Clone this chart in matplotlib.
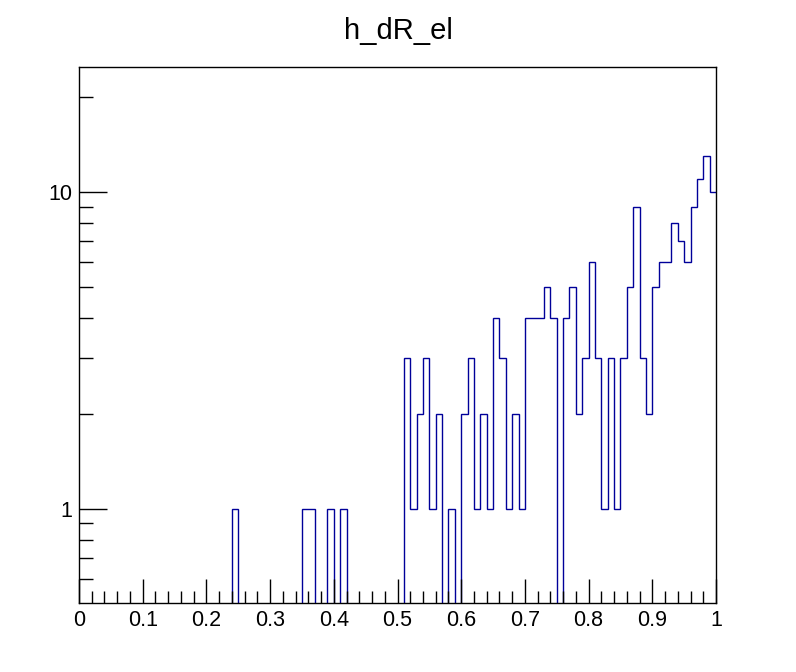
import numpy as np
import matplotlib.pyplot as plt
from matplotlib.ticker import LogLocator, MultipleLocator, FixedLocator, NullFormatter

# histogram h_dR_el: 100 bins from 0 to 1
bin_edges = np.linspace(0.0, 1.0, 101)
counts = np.zeros(100)
counts[24] = 1
counts[35] = 1
counts[36] = 1
counts[39] = 1
counts[41] = 1
counts[51:100] = [3, 1, 2, 3, 1, 2, 0, 1, 0, 2,
                  3, 1, 2, 1, 4, 3, 1, 2, 1, 4,
                  4, 4, 5, 4, 0, 4, 5, 2, 3, 6,
                  3, 1, 3, 1, 3, 5, 9, 3, 2, 5,
                  6, 6, 8, 7, 6, 9, 11, 13, 10]

ymin, ymax = 0.505, 24.8
line_color = '#000099'

plt.rcParams['font.family'] = ['Liberation Sans', 'DejaVu Sans']

fig = plt.figure(figsize=(7.96, 6.72), dpi=100)
ax = fig.add_axes([79 / 796, 1 - 603 / 672, (716 - 79) / 796, (603 - 67) / 672])

# empty bins drop to the bottom of the frame, like ROOT does on a log axis
drawn = np.where(counts > 0, counts, ymin * 0.5)
ax.stairs(drawn, bin_edges, color=line_color, linewidth=1.0, baseline=None)

ax.set_yscale('log')
ax.set_xlim(0, 1)
ax.set_ylim(ymin, ymax)

ax.xaxis.set_major_locator(MultipleLocator(0.1))
ax.xaxis.set_minor_locator(MultipleLocator(0.02))
ax.xaxis.set_major_formatter(plt.FuncFormatter(lambda v, p: f'{round(v, 2):g}'))
ax.yaxis.set_major_locator(FixedLocator([1, 10]))
ax.yaxis.set_major_formatter(plt.FuncFormatter(lambda v, p: f'{v:g}'))
ax.yaxis.set_minor_locator(LogLocator(base=10, subs=np.arange(2, 10)))
ax.yaxis.set_minor_formatter(NullFormatter())

ax.tick_params(axis='both', which='both', direction='in', top=False, right=False,
               labelsize=15.5, width=1.0)
ax.tick_params(axis='x', which='major', length=17, pad=5)
ax.tick_params(axis='x', which='minor', length=9)
ax.tick_params(axis='y', which='major', length=20, pad=5)
ax.tick_params(axis='y', which='minor', length=10)

for s in ax.spines.values():
    s.set_linewidth(1.0)

fig.text(0.5, 1 - 31 / 672, 'h_dR_el', ha='center', va='center', fontsize=21)

fig.savefig('out.png', dpi=100)
